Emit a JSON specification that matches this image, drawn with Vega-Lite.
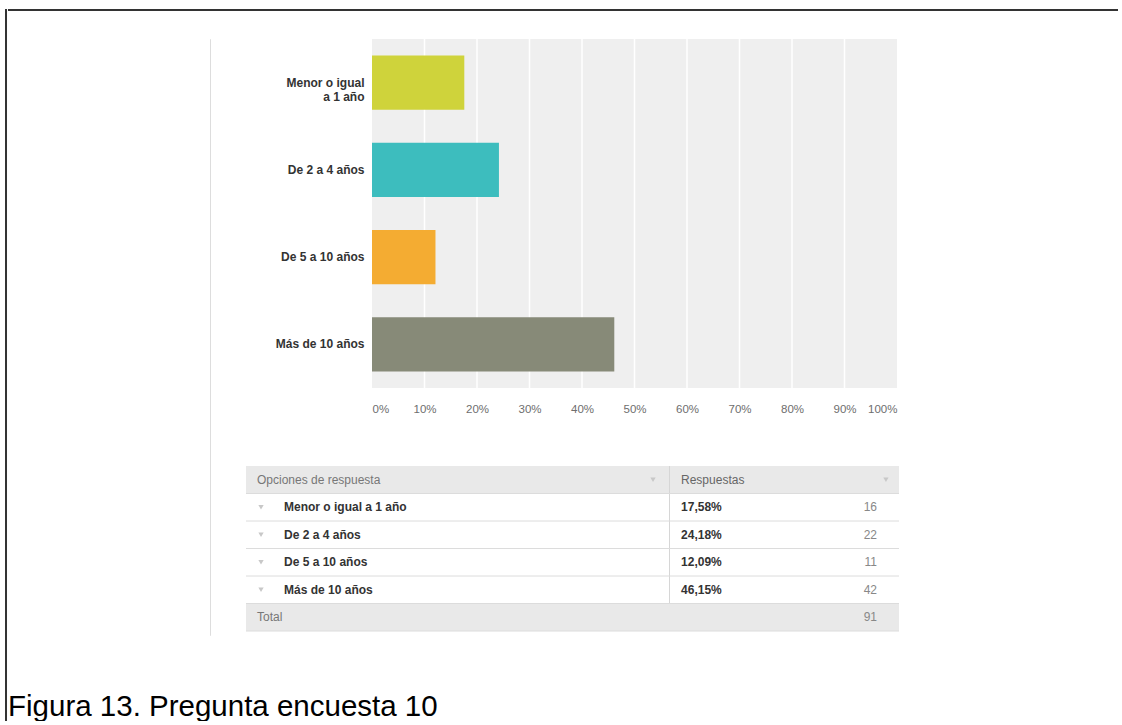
{
  "$schema": "https://vega.github.io/schema/vega-lite/v6.json",
  "padding": {"left": 5, "top": 9, "right": 0, "bottom": 0},
  "background": "white",
  "config": {"view": {"stroke": null}, "font": "Liberation Sans"},
  "datasets": {
    "respuestas": [
      {"opcion": "Menor o igual a 1 año", "porcentaje": 17.58},
      {"opcion": "De 2 a 4 años", "porcentaje": 24.18},
      {"opcion": "De 5 a 10 años", "porcentaje": 12.09},
      {"opcion": "Más de 10 años", "porcentaje": 46.15}
    ],
    "marcas": [
      {"marca": 10}, {"marca": 20}, {"marca": 30}, {"marca": 40}, {"marca": 50},
      {"marca": 60}, {"marca": 70}, {"marca": 80}, {"marca": 90}
    ],
    "tabla": [
      {"opcion": "Opciones de respuesta", "respuestas": "Respuestas", "tipo": "encabezado"},
      {"opcion": "Menor o igual a 1 año", "respuestas": "17,58%", "n": 16, "tipo": "opción"},
      {"opcion": "De 2 a 4 años", "respuestas": "24,18%", "n": 22, "tipo": "opción"},
      {"opcion": "De 5 a 10 años", "respuestas": "12,09%", "n": 11, "tipo": "opción"},
      {"opcion": "Más de 10 años", "respuestas": "46,15%", "n": 42, "tipo": "opción"},
      {"opcion": "Total", "n": 91, "tipo": "total"}
    ],
    "vacio": [{}],
    "nada": []
  },
  "spacing": 0,
  "hconcat": [
    {
      "width": 0.01, "height": 710,
      "view": {"stroke": "#333333", "strokeWidth": 2},
      "data": {"name": "nada"},
      "mark": "text",
      "encoding": {"text": {"value": ""}}
    },
    {
      "title": {
        "text": "Figura 13. Pregunta encuesta 10",
        "orient": "bottom", "anchor": "start",
        "fontSize": 29.5, "fontWeight": "normal", "color": "#000000",
        "font": "Liberation Sans", "offset": 57
      },
      "spacing": 26,
      "vconcat": [
        {
          "width": 1108, "height": 0.01,
          "view": {"stroke": "#333333", "strokeWidth": 2},
          "data": {"name": "nada"},
          "mark": "text",
          "encoding": {"text": {"value": ""}}
        },
        {
          "spacing": 34,
          "hconcat": [
            {
              "width": 166, "height": 10,
              "data": {"name": "nada"},
              "mark": "text",
              "encoding": {"text": {"value": ""}}
            },
            {
              "width": 0.01, "height": 596,
              "view": {"stroke": "#dddddd", "strokeWidth": 1},
              "data": {"name": "nada"},
              "mark": "text",
              "encoding": {"text": {"value": ""}}
            },
            {
              "spacing": 51,
              "vconcat": [
                {
                  "width": 653, "height": 349,
                  "layer": [
                    {
                      "data": {"name": "vacio"},
                      "mark": {"type": "rect", "color": "#efefef"},
                      "encoding": {
                        "x": {"datum": 0, "type": "quantitative", "scale": {"domain": [-24, 100.38], "nice": false, "zero": false}},
                        "x2": {"datum": 100}
                      }
                    },
                    {
                      "data": {"name": "marcas"},
                      "mark": {"type": "rule", "color": "#ffffff", "strokeWidth": 1.5},
                      "encoding": {
                        "x": {"field": "marca", "type": "quantitative", "scale": {"domain": [-24, 100.38], "nice": false, "zero": false}}
                      }
                    },
                    {
                      "data": {"name": "respuestas"},
                      "mark": {"type": "bar"},
                      "encoding": {
                        "x": {
                          "field": "porcentaje", "type": "quantitative",
                          "scale": {"domain": [-24, 100.38], "nice": false, "zero": false},
                          "axis": {
                            "values": [0, 10, 20, 30, 40, 50, 60, 70, 80, 90, 100],
                            "labelExpr": "datum.value + '%'",
                            "title": null, "grid": false, "domain": false, "ticks": false,
                            "labelPadding": 15, "labelFontSize": 11.5, "labelColor": "#6e6e6e",
                            "labelFont": "Liberation Sans",
                            "labelAlign": {
                              "condition": [
                                {"test": "datum.value == 0", "value": "left"},
                                {"test": "datum.value == 100", "value": "right"}
                              ],
                              "value": "center"
                            }
                          }
                        },
                        "y": {
                          "field": "opcion", "type": "nominal",
                          "scale": {
                            "domain": ["Menor o igual a 1 año", "De 2 a 4 años", "De 5 a 10 años", "Más de 10 años"],
                            "paddingInner": 0.38, "paddingOuter": 0.19
                          },
                          "axis": {
                            "offset": -126, "title": null, "domain": false, "ticks": false,
                            "labelPadding": 8, "labelFontSize": 12, "labelFontWeight": "bold",
                            "labelColor": "#333333", "labelFont": "Liberation Sans", "labelLineHeight": 14,
                            "labelExpr": "datum.label == 'Menor o igual a 1 año' ? ['Menor o igual', 'a 1 año'] : datum.label"
                          }
                        },
                        "color": {
                          "field": "opcion", "type": "nominal",
                          "scale": {
                            "domain": ["Menor o igual a 1 año", "De 2 a 4 años", "De 5 a 10 años", "Más de 10 años"],
                            "range": ["#cfd33b", "#3dbdbe", "#f4ac32", "#878a78"]
                          },
                          "legend": null
                        }
                      }
                    }
                  ]
                },
                {
                  "width": 653, "height": 165,
                  "data": {"name": "tabla"},
                  "encoding": {
                    "y": {
                      "field": "opcion", "type": "nominal",
                      "scale": {
                        "domain": ["Opciones de respuesta", "Menor o igual a 1 año", "De 2 a 4 años", "De 5 a 10 años", "Más de 10 años", "Total"],
                        "paddingInner": 0, "paddingOuter": 0
                      },
                      "axis": null
                    }
                  },
                  "layer": [
                    {
                      "transform": [{"filter": "datum.tipo != 'opción'"}],
                      "mark": {"type": "rect", "color": "#e9e9e9"},
                      "encoding": {
                        "x": {"datum": 0, "type": "quantitative", "scale": {"domain": [0, 100], "nice": false, "zero": false}, "axis": null},
                        "x2": {"datum": 100}
                      }
                    },
                    {
                      "transform": [{"filter": "datum.tipo != 'total'"}],
                      "mark": {"type": "rect", "color": "#d6d6d6"},
                      "encoding": {
                        "x": {"datum": 64.78, "type": "quantitative", "scale": {"domain": [0, 100], "nice": false, "zero": false}, "axis": null},
                        "x2": {"datum": 64.93}
                      }
                    },
                    {
                      "mark": {"type": "rule", "color": "#dcdcdc", "strokeWidth": 1},
                      "encoding": {
                        "x": {"datum": 0, "type": "quantitative", "scale": {"domain": [0, 100], "nice": false, "zero": false}, "axis": null},
                        "x2": {"datum": 100},
                        "y": {"field": "opcion", "type": "nominal", "bandPosition": 1}
                      }
                    },
                    {
                      "transform": [{"filter": "datum.tipo != 'opción'"}],
                      "mark": {"type": "text", "align": "left", "baseline": "middle", "fontSize": 12, "color": "#777777"},
                      "encoding": {
                        "x": {"datum": 1.68, "type": "quantitative", "scale": {"domain": [0, 100], "nice": false, "zero": false}, "axis": null},
                        "text": {"field": "opcion"}
                      }
                    },
                    {
                      "transform": [{"filter": "datum.tipo == 'encabezado'"}],
                      "mark": {"type": "text", "align": "left", "baseline": "middle", "fontSize": 12, "color": "#666666"},
                      "encoding": {
                        "x": {"datum": 66.62, "type": "quantitative", "scale": {"domain": [0, 100], "nice": false, "zero": false}, "axis": null},
                        "text": {"field": "respuestas"}
                      }
                    },
                    {
                      "transform": [{"filter": "datum.tipo == 'opción'"}],
                      "mark": {"type": "text", "align": "left", "baseline": "middle", "fontSize": 12, "fontWeight": "bold", "color": "#333333"},
                      "encoding": {
                        "x": {"datum": 66.62, "type": "quantitative", "scale": {"domain": [0, 100], "nice": false, "zero": false}, "axis": null},
                        "text": {"field": "respuestas"}
                      }
                    },
                    {
                      "transform": [{"filter": "datum.tipo == 'opción'"}],
                      "mark": {"type": "text", "align": "left", "baseline": "middle", "fontSize": 12, "fontWeight": "bold", "color": "#333333"},
                      "encoding": {
                        "x": {"datum": 5.82, "type": "quantitative", "scale": {"domain": [0, 100], "nice": false, "zero": false}, "axis": null},
                        "text": {"field": "opcion"}
                      }
                    },
                    {
                      "transform": [{"filter": "datum.tipo != 'encabezado'"}],
                      "mark": {"type": "text", "align": "right", "baseline": "middle", "fontSize": 12, "color": "#888888"},
                      "encoding": {
                        "x": {"datum": 96.63, "type": "quantitative", "scale": {"domain": [0, 100], "nice": false, "zero": false}, "axis": null},
                        "text": {"field": "n"}
                      }
                    },
                    {
                      "transform": [{"filter": "datum.tipo == 'opción'"}],
                      "mark": {"type": "point", "shape": "triangle-down", "filled": true, "size": 28, "color": "#c8c8c8", "opacity": 1},
                      "encoding": {
                        "x": {"datum": 2.3, "type": "quantitative", "scale": {"domain": [0, 100], "nice": false, "zero": false}, "axis": null}
                      }
                    },
                    {
                      "transform": [{"filter": "datum.tipo == 'encabezado'"}],
                      "mark": {"type": "point", "shape": "triangle-down", "filled": true, "size": 28, "color": "#c8c8c8", "opacity": 1},
                      "encoding": {
                        "x": {"datum": 62.33, "type": "quantitative", "scale": {"domain": [0, 100], "nice": false, "zero": false}, "axis": null}
                      }
                    },
                    {
                      "transform": [{"filter": "datum.tipo == 'encabezado'"}],
                      "mark": {"type": "point", "shape": "triangle-down", "filled": true, "size": 28, "color": "#c8c8c8", "opacity": 1},
                      "encoding": {
                        "x": {"datum": 98.0, "type": "quantitative", "scale": {"domain": [0, 100], "nice": false, "zero": false}, "axis": null}
                      }
                    }
                  ]
                }
              ]
            }
          ]
        }
      ]
    }
  ]
}
